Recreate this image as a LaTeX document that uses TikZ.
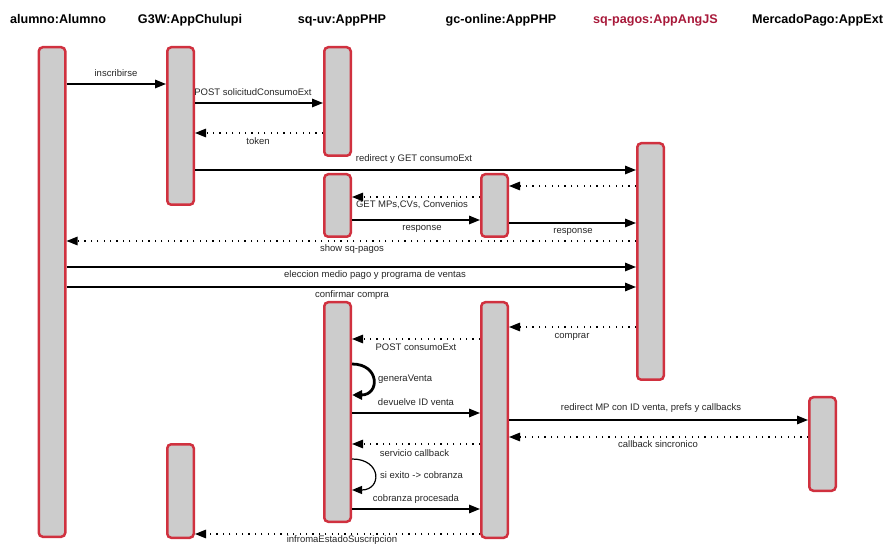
\documentclass[tikz,border=0pt]{standalone}
\usepackage{fontspec}
\setmainfont{Liberation Sans}
\usetikzlibrary{arrows.meta}
\definecolor{barred}{HTML}{D0313F}
\definecolor{barfill}{HTML}{CCCCCC}
\definecolor{titlered}{HTML}{A8193A}
\definecolor{ink}{HTML}{000000}
\tikzset{
  bar/.style={draw=barred, fill=barfill, line width=2.5pt, rounded corners=4pt,
    minimum width=26.5pt, inner sep=0pt},
  ttl/.style={font=\bfseries\fontsize{12.6}{14}\selectfont, anchor=base, inner sep=0pt},
  lbl/.style={font=\fontsize{9.5}{11}\selectfont, inner sep=0pt, text=ink!85},
  msg/.style={draw=ink, line width=1.5pt, -{Triangle[length=11pt,width=8.5pt]}},
  ret/.style={draw=ink, line width=1.3pt, dash pattern=on 1.2pt off 5.2pt,
    -{Triangle[length=11pt,width=8.5pt]}},
  selfthick/.style={draw=ink, line width=2.8pt, -{Triangle[length=10pt,width=9pt]}},
  selfthin/.style={draw=ink, line width=1.2pt, -{Triangle[length=10pt,width=8pt]}}
}
\begin{document}
\begin{tikzpicture}[x=1pt,y=-1pt]
\useasboundingbox (0,0) rectangle (884,545);
% titles
\node[ttl] (t1) at (58,24) {alumno:Alumno};
\node[ttl] (t2) at (190,24) {G3W:AppChulupi};
\node[ttl] (t3) at (342,24) {sq-uv:AppPHP};
\node[ttl] (t4) at (501,24) {gc-online:AppPHP};
\node[ttl, text=titlered] (t5) at (655.5,24) {sq-pagos:AppAngJS};
\node[ttl] (t6) at (817.5,24) {MercadoPago:AppExt};
% activation bars
\node[bar, minimum height=489.5pt] (alu) at (52,292) {};
\node[bar, minimum height=157.5pt] (gwa) at (180.5,126) {};
\node[bar, minimum height=93.5pt] (gwb) at (180.5,491) {};
\node[bar, minimum height=108.5pt] (uva) at (337.5,101.5) {};
\node[bar, minimum height=62.5pt] (uvb) at (337.5,205.5) {};
\node[bar, minimum height=219.5pt] (uvc) at (337.5,412) {};
\node[bar, minimum height=62.5pt] (gca) at (494.5,205.5) {};
\node[bar, minimum height=235.5pt] (gcb) at (494.5,420) {};
\node[bar, minimum height=236.5pt] (pag) at (650.5,261.5) {};
\node[bar, minimum height=93.5pt] (mp) at (822.5,444) {};
% messages
\draw[msg] (alu.east |- 0,84) -- (gwa.west |- 0,84);
\node[lbl] (l1) at (116,73) {inscribirse};
\draw[msg] (gwa.east |- 0,103) -- (uva.west |- 0,103);
\node[lbl] (l2) at (253,92) {POST solicitudConsumoExt};
\draw[ret] (uva.west |- 0,133) -- (gwa.east |- 0,133);
\node[lbl] (l3) at (258,141) {token};
\draw[msg] (gwa.east |- 0,170) -- (pag.west |- 0,170);
\node[lbl] (l4) at (414,159) {redirect y GET consumoExt};
\draw[ret] (pag.west |- 0,186) -- (gca.east |- 0,186);
\draw[ret] (gca.west |- 0,197) -- (uvb.east |- 0,197);
\node[lbl] (l6) at (412,205) {GET MPs,CVs, Convenios};
\draw[msg] (uvb.east |- 0,220) -- (gca.west |- 0,220);
\node[lbl] (l7) at (422,228.5) {response};
\draw[msg] (gca.east |- 0,223) -- (pag.west |- 0,223);
\node[lbl] (l8) at (573,231.5) {response};
\draw[ret] (pag.west |- 0,241) -- (alu.east |- 0,241);
\node[lbl] (l9) at (352,249.5) {show sq-pagos};
\draw[msg] (alu.east |- 0,267) -- (pag.west |- 0,267);
\node[lbl] (l10) at (375,275) {eleccion medio pago y programa de ventas};
\draw[msg] (alu.east |- 0,287) -- (pag.west |- 0,287);
\node[lbl] (l11) at (352,295.5) {confirmar compra};
\draw[ret] (pag.west |- 0,327) -- (gcb.east |- 0,327);
\node[lbl] (l12) at (572,337) {comprar};
\draw[ret] (gcb.west |- 0,339) -- (uvc.east |- 0,339);
\node[lbl] (l13) at (416,347.5) {POST consumoExt};
\coordinate (g1) at (uvc.east |- 0,364);
\coordinate (g2) at (uvc.east |- 0,395);
\draw[selfthick] (g1) .. controls (380,364) and (380,395) .. (g2);
\node[lbl, anchor=west] (l14) at (378,379) {generaVenta};
\draw[msg] (uvc.east |- 0,413) -- (gcb.west |- 0,413);
\node[lbl] (l15) at (416,402) {devuelve ID venta};
\draw[msg] (gcb.east |- 0,420) -- (mp.west |- 0,420);
\node[lbl] (l16) at (651,408) {redirect MP con ID venta, prefs y callbacks};
\draw[ret] (mp.west |- 0,437) -- (gcb.east |- 0,437);
\node[lbl] (l17) at (658,444.5) {callback sincronico};
\draw[ret] (gcb.west |- 0,444) -- (uvc.east |- 0,444);
\node[lbl] (l18) at (414.5,453) {servicio callback};
\coordinate (s1) at (uvc.east |- 0,459);
\coordinate (s2) at (uvc.east |- 0,490);
\draw[selfthin] (s1) .. controls (382,459) and (382,490) .. (s2);
\node[lbl, anchor=west] (l19) at (380,475) {si exito -> cobranza};
\draw[msg] (uvc.east |- 0,509) -- (gcb.west |- 0,509);
\node[lbl] (l20) at (416,499) {cobranza procesada};
\draw[ret] (gcb.west |- 0,534) -- (gwb.east |- 0,534);
\node[lbl] (l21) at (342,540.5) {infromaEstadoSuscripcion};
\end{tikzpicture}
\end{document}
